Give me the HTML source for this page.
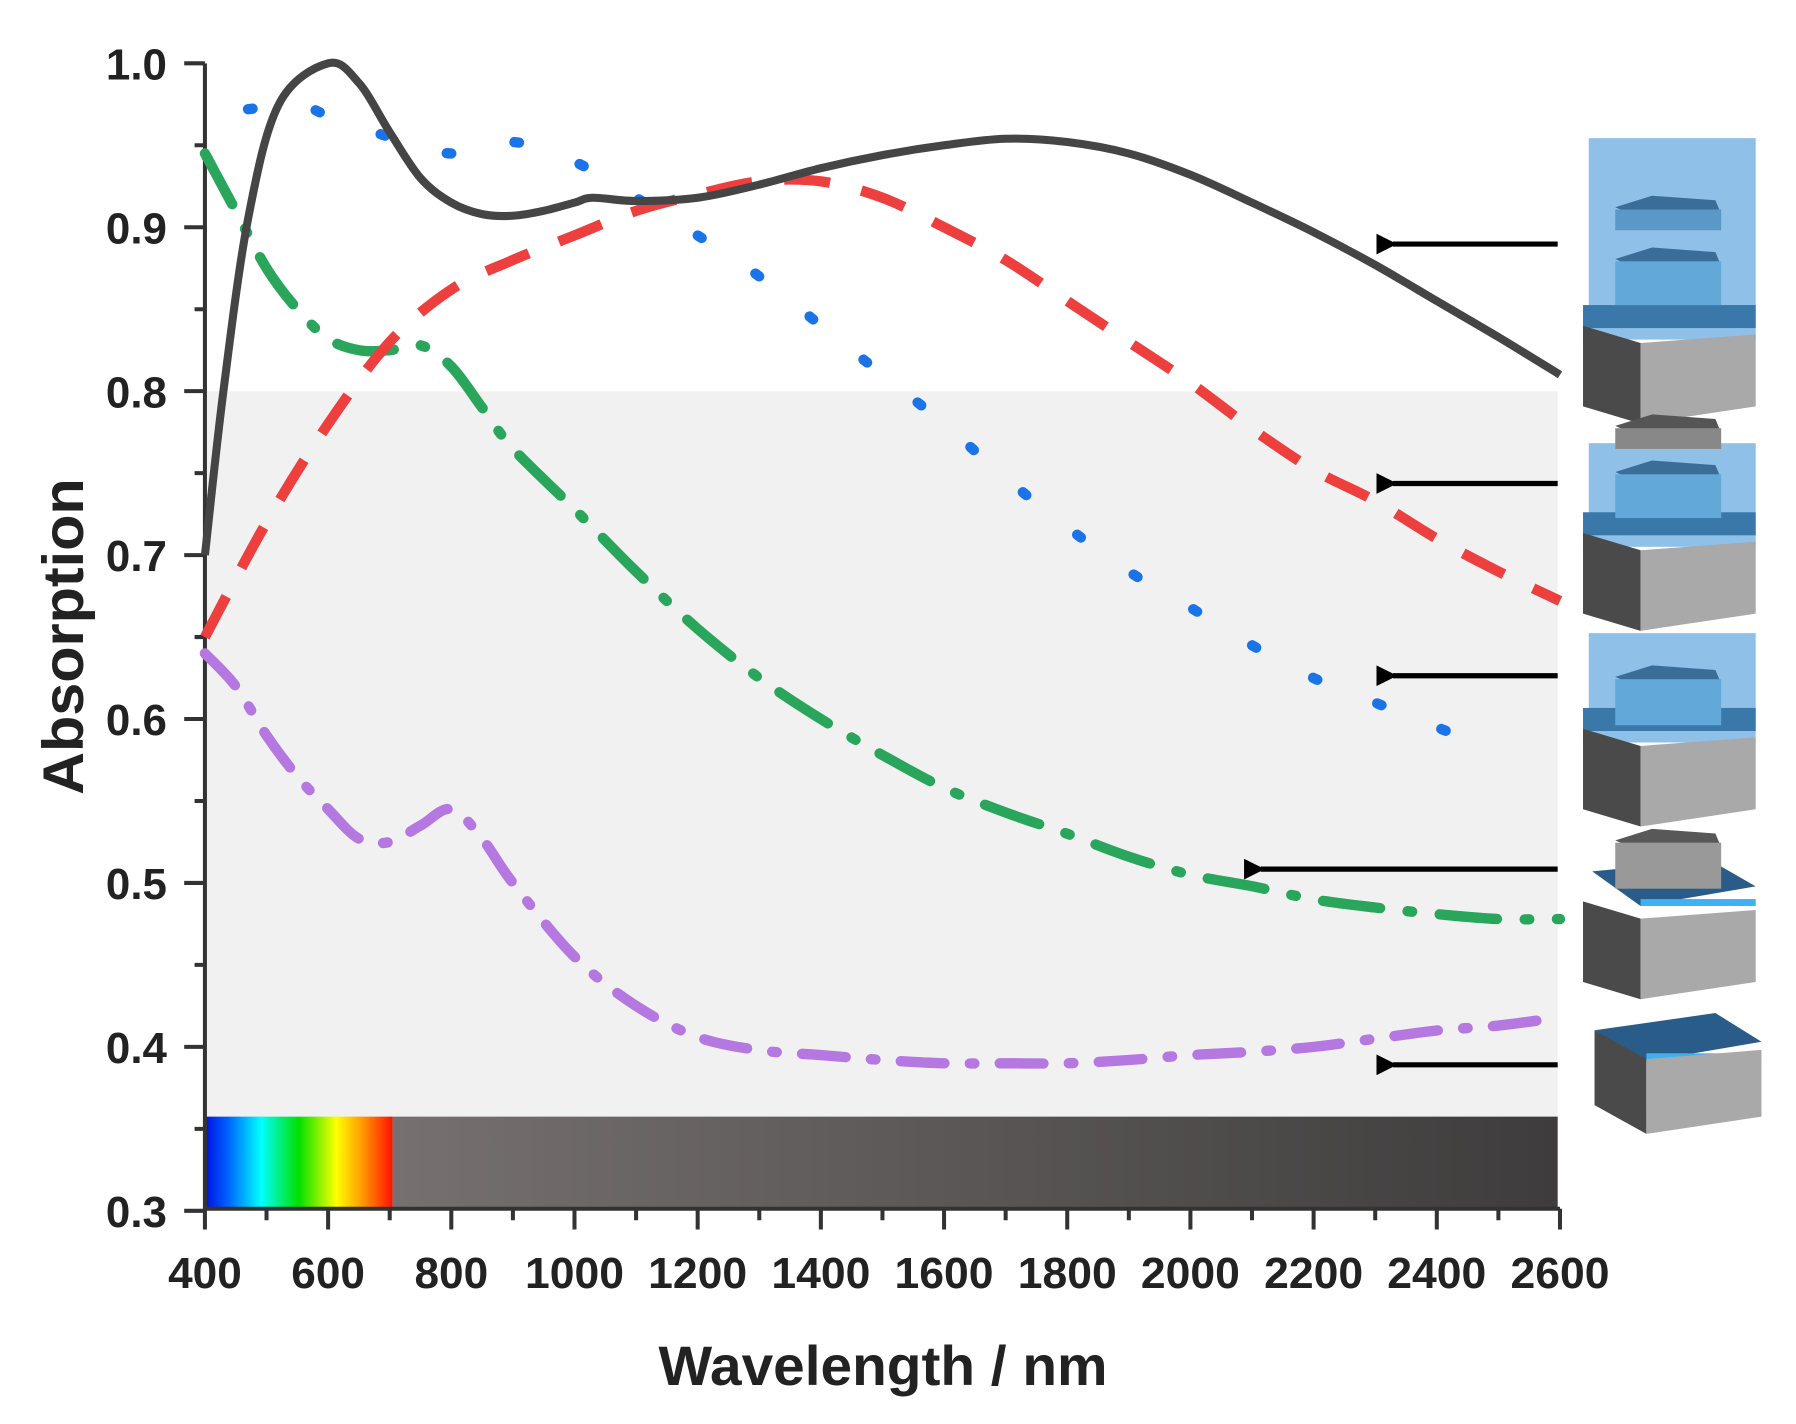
<!DOCTYPE html>
<html><head><meta charset="utf-8"><style>
html,body{margin:0;padding:0;background:#fff;}
svg{display:block;}
text{font-family:"Liberation Sans",Arial,sans-serif;font-weight:bold;fill:#222;}
</style></head><body>
<svg id="s" width="1796" height="1424" viewBox="0 0 1560 1237" preserveAspectRatio="none" xmlns="http://www.w3.org/2000/svg">
<defs>
<linearGradient id="spec" x1="0" x2="1" y1="0" y2="0">
<stop offset="0" stop-color="#0010e0"/><stop offset="0.12" stop-color="#0060ff"/><stop offset="0.3" stop-color="#00ffff"/><stop offset="0.5" stop-color="#00e000"/><stop offset="0.7" stop-color="#ffff00"/><stop offset="0.85" stop-color="#ff9000"/><stop offset="1" stop-color="#ff1000"/>
</linearGradient>
<linearGradient id="grey" x1="0" x2="1" y1="0" y2="0">
<stop offset="0" stop-color="#767070"/><stop offset="1" stop-color="#3e3c3c"/>
</linearGradient>
<marker id="ah" viewBox="0 0 10 10" refX="2" refY="5" markerWidth="4" markerHeight="4" orient="auto-start-reverse"><path d="M10,0 L0,5 L10,10 Z" fill="#000"/></marker>
</defs>
<rect x="178" y="340" width="1175" height="632" fill="#f1f1f1"/>
<rect x="178" y="970" width="163" height="80" fill="url(#spec)"/>
<rect x="341" y="970" width="1012" height="80" fill="url(#grey)"/>
<g id="axes" stroke="#333" stroke-width="3.5" fill="none"></g>
<g id="labels"></g>
<g id="curves" fill="none"></g>
<g stroke="#000" stroke-width="4.5">
<line x1="1353" y1="212" x2="1210" y2="212" marker-end="url(#ah)"/>
<line x1="1353" y1="420" x2="1210" y2="420" marker-end="url(#ah)"/>
<line x1="1353" y1="587" x2="1210" y2="587" marker-end="url(#ah)"/>
<line x1="1353" y1="755" x2="1095" y2="755" marker-end="url(#ah)"/>
<line x1="1353" y1="925" x2="1210" y2="925" marker-end="url(#ah)"/>
</g>
<g id="icons"></g>
<text x="767" y="1203" font-size="48" text-anchor="middle" textLength="390" lengthAdjust="spacingAndGlyphs">Wavelength / nm</text>
<text transform="translate(72,553) rotate(-90)" font-size="50" text-anchor="middle" textLength="275" lengthAdjust="spacingAndGlyphs">Absorption</text>
</svg>
<script>
var NS="http://www.w3.org/2000/svg";
function px(w){return 178+(w-400)*1177/2200;}
function py(a){return 55+(1-a)*1424;}
function el(p,tag,at,txt){var e=document.createElementNS(NS,tag);for(var k in at)e.setAttribute(k,at[k]);if(txt)e.textContent=txt;document.getElementById(p).appendChild(e);return e;}
var ad="M178,55 L178,1050 L1355,1050";
for(var a=3;a<=10;a++){var y=py(a/10);ad+=" M160,"+y+" L178,"+y;el("labels","text",{x:92,y:y+14,"font-size":38,textLength:53,lengthAdjust:"spacingAndGlyphs"},(a/10).toFixed(1));}
for(var a=3;a<10;a++){var y=py(a/10+0.05);ad+=" M169,"+y+" L178,"+y;}
for(var w=400;w<=2600;w+=200){var x=px(w);ad+=" M"+x+",1050 L"+x+",1068";var L=(w<1000?64:86);el("labels","text",{x:x-L/2,y:1119,"font-size":38,textLength:L,lengthAdjust:"spacingAndGlyphs"},""+w);}
for(var w=500;w<2600;w+=200){var x=px(w);ad+=" M"+x+",1050 L"+x+",1060";}
el("axes","path",{d:ad});
function path(pts){var P=pts.map(function(p){return [px(p[0]),py(p[1])];});var d="M"+P[0][0]+","+P[0][1];
for(var i=0;i<P.length-1;i++){var p0=P[i-1]||P[i],p1=P[i],p2=P[i+1],p3=P[i+2]||P[i+1];
d+=" C"+(p1[0]+(p2[0]-p0[0])/6)+","+(p1[1]+(p2[1]-p0[1])/6)+" "+(p2[0]-(p3[0]-p1[0])/6)+","+(p2[1]-(p3[1]-p1[1])/6)+" "+p2[0]+","+p2[1];}return d;}
var black=[[400,0.70],[430,0.80],[470,0.905],[520,0.975],[600,1.0],[650,0.988],[700,0.958],[750,0.93],[800,0.915],[850,0.908],[900,0.907],[950,0.91],[1000,0.915],[1030,0.918],[1100,0.916],[1200,0.918],[1300,0.926],[1400,0.936],[1500,0.944],[1600,0.95],[1700,0.954],[1800,0.952],[1900,0.945],[2000,0.932],[2100,0.915],[2200,0.895],[2300,0.872],[2400,0.848],[2500,0.83],[2600,0.81]];
black.splice(25,5,[2200,0.897],[2300,0.877],[2400,0.855],[2500,0.833],[2600,0.81]);
var red=[[400,0.65],[500,0.72],[600,0.78],[700,0.83],[800,0.862],[900,0.88],[1000,0.895],[1100,0.91],[1200,0.92],[1300,0.928],[1400,0.928],[1500,0.918],[1600,0.9],[1700,0.88],[1800,0.855],[1900,0.83],[2000,0.805],[2100,0.777],[2200,0.752],[2300,0.733],[2400,0.71],[2500,0.69],[2600,0.672]];
var blue=[[470,0.972],[550,0.975],[600,0.968],[700,0.955],[800,0.945],[900,0.952],[1000,0.94],[1100,0.918],[1200,0.895],[1300,0.87],[1400,0.84],[1500,0.81],[1600,0.78],[1700,0.747],[1800,0.717],[1900,0.69],[2000,0.668],[2100,0.645],[2200,0.625],[2300,0.61],[2400,0.595],[2500,0.58]];
var green=[[400,0.945],[450,0.91],[500,0.875],[550,0.85],[600,0.832],[650,0.825],[700,0.825],[750,0.828],[800,0.815],[850,0.79],[900,0.765],[1000,0.728],[1100,0.69],[1200,0.655],[1300,0.625],[1400,0.6],[1500,0.578],[1600,0.558],[1700,0.543],[1800,0.53],[1900,0.516],[2000,0.505],[2100,0.498],[2200,0.49],[2300,0.485],[2400,0.481],[2500,0.478],[2600,0.478]];
var purple=[[400,0.64],[450,0.62],[500,0.59],[550,0.565],[600,0.545],[650,0.527],[700,0.525],[750,0.535],[800,0.545],[850,0.527],[900,0.5],[1000,0.455],[1100,0.425],[1200,0.406],[1300,0.398],[1400,0.395],[1500,0.392],[1600,0.39],[1700,0.39],[1800,0.39],[1900,0.392],[2000,0.395],[2100,0.397],[2200,0.4],[2300,0.405],[2400,0.41],[2500,0.413],[2600,0.418]];
el("curves","path",{d:path(purple),stroke:"#b478e0","stroke-width":9,"stroke-dasharray":"38 22 4 22","stroke-linecap":"round"});
el("curves","path",{d:path(green),stroke:"#2aa55c","stroke-width":9,"stroke-dasharray":"50 24 4 24","stroke-linecap":"round"});
el("curves","path",{d:path(blue),stroke:"#1a74e8","stroke-width":9,"stroke-dasharray":"4 56","stroke-linecap":"round"});
el("curves","path",{d:path(red),stroke:"#ee3f3f","stroke-width":9,"stroke-dasharray":"40 28"});
el("curves","path",{d:path(black),stroke:"#454545","stroke-width":7});
function block(x,y,w,h,d){
el("icons","polygon",{points:(x)+","+(y)+" "+(x+d)+","+(y+d*0.3)+" "+(x+d)+","+(y+h+d*0.3)+" "+x+","+(y+h),fill:"#4a4a4a"});
el("icons","polygon",{points:(x+d)+","+(y+d*0.3)+" "+(x+w)+","+(y+d*0.15)+" "+(x+w)+","+(y+h)+" "+(x+d)+","+(y+h+d*0.3),fill:"#a9a9a9"});
}
function icon(top,base,glass,pentas,layerOnly){
var x=1375,w=150;
if(glass){el("icons","rect",{x:x+5,y:top,width:w-5,height:base-top+30,fill:"#8ec0e8"});}
if(layerOnly){el("icons","polygon",{points:(x+8)+","+(base-8)+" "+(x+110)+","+(base-18)+" "+(x+w)+","+(base+5)+" "+(x+50)+","+(base+22),fill:"#2a5c8a"});
el("icons","rect",{x:x+50,y:base+16,width:w-50,height:6,fill:"#3fb0f0"});}
if(glass){el("icons","rect",{x:x,y:base,width:w,height:20,fill:"#3a78aa"});}
block(x,base+(glass||layerOnly?18:0),w,70,50);
pentas.forEach(function(p){el("icons","polygon",{points:(x+28)+","+(p[0]+10)+" "+(x+60)+","+p[0]+" "+(x+115)+","+(p[0]+4)+" "+(x+120)+","+(p[0]+16)+" "+(x+55)+","+(p[0]+22),fill:p[2]});
el("icons","rect",{x:x+28,y:p[0]+12,width:92,height:p[1],fill:p[3]});});
}
icon(120,265,true,[[170,18,"#3a6e98","#5a98c8"],[215,38,"#3a6e98","#62a8d8"]]);
icon(385,445,true,[[360,18,"#555","#888"],[400,38,"#3a6e98","#62a8d8"]]);
icon(550,615,true,[[578,40,"#3a6e98","#62a8d8"]]);
icon(0,765,false,[[720,40,"#585858","#999"]],true);
el("icons","polygon",{points:"1385,895 1490,880 1530,905 1430,922",fill:"#2a5c8a"});
el("icons","rect",{x:1430,y:915,width:100,height:6,fill:"#3fb0f0"});
el("icons","polygon",{points:"1385,895 1430,920 1430,985 1385,960",fill:"#4a4a4a"});
el("icons","polygon",{points:"1430,920 1530,912 1530,970 1430,985",fill:"#a9a9a9"});
</script>
</body></html>
